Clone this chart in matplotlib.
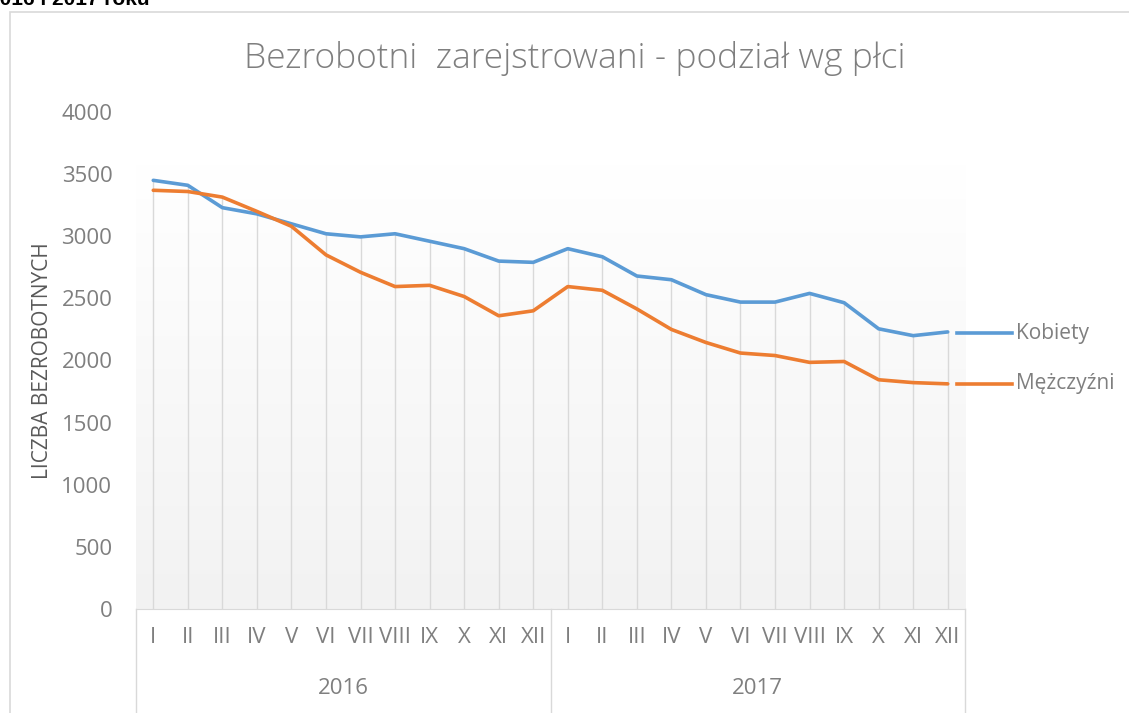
import numpy as np
import matplotlib.pyplot as plt
from matplotlib.colors import LinearSegmentedColormap
from matplotlib.lines import Line2D
from matplotlib.patches import Rectangle

# dane
months = ['I', 'II', 'III', 'IV', 'V', 'VI', 'VII', 'VIII', 'IX', 'X', 'XI', 'XII']
years = ['2016', '2017']
kobiety = [3450, 3410, 3230, 3180, 3100, 3020, 2995, 3020, 2960, 2900, 2800, 2790,
           2900, 2835, 2680, 2650, 2530, 2470, 2470, 2540, 2465, 2255, 2200, 2230]
mezczyzni = [3370, 3360, 3315, 3200, 3080, 2850, 2710, 2595, 2605, 2515, 2360, 2400,
             2595, 2565, 2415, 2250, 2145, 2060, 2040, 1985, 1992, 1845, 1822, 1812]

plt.rcParams['font.family'] = ['Open Sans', 'DejaVu Sans']

grey = '#7f7f7f'
blue = '#5B9BD5'
orange = '#ED7D31'

fig = plt.figure(figsize=(11.29, 7.13), dpi=100)
W, H = 1129, 713
ax = fig.add_axes([136 / W, 1 - 609 / H, (965 - 136) / W, (609 - 112) / H])

x = np.arange(len(kobiety))

# tlo z gradientem
grad = np.linspace(1, 0, 256).reshape(-1, 1)
ax.imshow(grad, extent=[-0.5, 23.5, 0, 3580], aspect='auto', zorder=0,
          cmap=LinearSegmentedColormap.from_list('g', ['#f2f2f2', '#ffffff']))

# linie spadku
ax.vlines(x, 0, np.maximum(kobiety, mezczyzni), color='#d9d9d9', lw=1, zorder=1)

ax.plot(x, kobiety, color=blue, lw=2.6, zorder=3, solid_capstyle='round')
ax.plot(x, mezczyzni, color=orange, lw=2.6, zorder=3, solid_capstyle='round')

ax.set_xlim(-0.5, 23.5)
ax.set_ylim(0, 4000)
ax.set_yticks(np.arange(0, 4001, 500))
ax.tick_params(axis='y', length=0, pad=17, labelsize=16, labelcolor=grey)
ax.set_xticks(x)
ax.set_xticklabels(months * 2)
ax.tick_params(axis='x', length=0, pad=13, labelsize=16, labelcolor=grey)
for s in ['top', 'right', 'left']:
    ax.spines[s].set_visible(False)
ax.spines['bottom'].set_color('#d9d9d9')

# kategorie wielopoziomowe
trans = ax.get_xaxis_transform()
for b in [-0.5, 11.5, 23.5]:
    ax.add_line(Line2D([b, b], [0, -0.25], transform=trans, color='#d9d9d9', lw=1, clip_on=False))
for i, yr in enumerate(years):
    ax.text(5.5 + 12 * i, -(688 - 609) / (609 - 112), yr, transform=trans,
            ha='center', va='center', fontsize=16, color=grey)

ax.set_ylabel('LICZBA BEZROBOTNYCH', fontsize=15, color='#595959', labelpad=6)

fig.text(575 / W, 1 - 58 / H, 'Bezrobotni  zarejstrowani - podział wg płci',
         ha='center', va='center', fontsize=25.5, color=grey, fontweight='light')

# legenda
for yy, col, lab in [(333, blue, 'Kobiety'), (384, orange, 'Mężczyźni')]:
    fig.add_artist(Line2D([957 / W, 1012 / W], [1 - yy / H] * 2, color=col, lw=2.6))
    fig.text(1016 / W, 1 - yy / H, lab, ha='left', va='center', fontsize=15, color=grey)

# ramka obszaru wykresu
fig.add_artist(Rectangle((10 / W, -0.1), 1.2, 1 - 12 / H + 0.1, transform=fig.transFigure,
                         fill=False, edgecolor='#d9d9d9', lw=1.2))
fig.text(-12 / W, 1 - 5 / H, '2016 i 2017 roku', ha='left', va='baseline',
         fontsize=15, fontweight='bold', family='Liberation Sans')

fig.savefig('out.png', dpi=100)
